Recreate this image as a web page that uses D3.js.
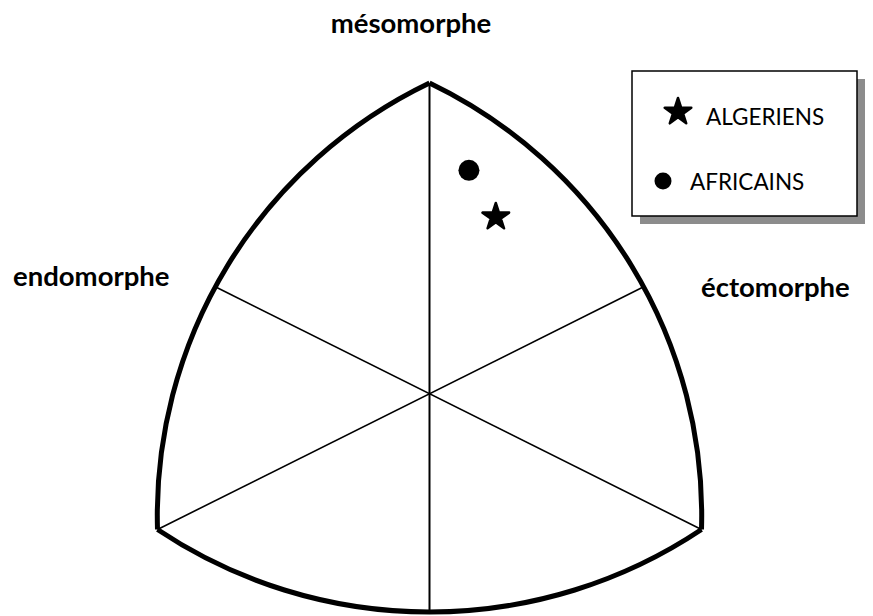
<!DOCTYPE html>
<html>
<head>
<meta charset="utf-8">
<script src="https://cdn.jsdelivr.net/npm/d3@7"></script>
<style>
  body { margin: 0; background: #fff; }
  text { font-family: Lato, "Open Sans", sans-serif; fill: #000; }
  .axis-label { font-weight: bold; font-size: 27.5px; }
  .legend-text { font-size: 22.5px; }
</style>
</head>
<body>
<div id="chart"></div>
<script>
// Somatochart frame (X = ecto - endo, Y = 2*meso - endo - ecto)
const vertexNames = ["mésomorphe", "endomorphe", "éctomorphe"];
const vertices = [[0, 16], [-8, -7], [8, -7]];        // meso, endo, ecto corners
const arcMidpoints = [[-6.3, 5.5], [6.3, 5.5], [0, -11.25]]; // endo side, ecto side, bottom

// Groups
const groups = ["ALGERIENS", "AFRICAINS"];
const groupX = [1.95, 1.16];
const groupY = [9.1, 11.5];
const groupSymbol = ["star", "circle"];

const width = 873, height = 616;

const svg = d3.select("#chart")
  .append("svg")
  .attr("width", width)
  .attr("height", height);

const xScale = d3.scaleLinear().domain([-8, 8]).range([157.5, 701.5]);
const yScale = d3.scaleLinear().domain([-7, 16]).range([529.5, 83]);

const px = (p) => [xScale(p[0]), yScale(p[1])];

// circle through three points -> svg arc
function arcPath(a, m, b) {
  const [ax, ay] = a, [bx, by] = m, [cx, cy] = b;
  const d = 2 * (ax * (by - cy) + bx * (cy - ay) + cx * (ay - by));
  const ux = ((ax * ax + ay * ay) * (by - cy) + (bx * bx + by * by) * (cy - ay) + (cx * cx + cy * cy) * (ay - by)) / d;
  const uy = ((ax * ax + ay * ay) * (cx - bx) + (bx * bx + by * by) * (ax - cx) + (cx * cx + cy * cy) * (bx - ax)) / d;
  const r = Math.hypot(ax - ux, ay - uy);
  // sweep: sign of cross product a->m->b
  const cross = (bx - ax) * (cy - ay) - (by - ay) * (cx - ax);
  const sweep = cross > 0 ? 1 : 0;
  return `M${ax},${ay} A${r},${r} 0 0 ${sweep} ${cx},${cy}`;
}

const chart = svg.append("g");

// inner lines (vertex -> opposite arc midpoint)
const innerLines = [
  [vertices[0], arcMidpoints[2]],
  [vertices[1], arcMidpoints[1]],
  [vertices[2], arcMidpoints[0]],
];
chart.selectAll("line.inner")
  .data(innerLines)
  .enter()
  .append("line")
  .attr("class", "inner")
  .attr("x1", (d) => xScale(d[0][0]))
  .attr("y1", (d) => yScale(d[0][1]))
  .attr("x2", (d) => xScale(d[1][0]))
  .attr("y2", (d) => yScale(d[1][1]))
  .attr("stroke", "#000")
  .attr("stroke-width", (d, i) => (i === 0 ? 2 : 1.6));

// outline arcs
const arcs = [
  [vertices[0], arcMidpoints[0], vertices[1]],
  [vertices[0], arcMidpoints[1], vertices[2]],
  [vertices[1], arcMidpoints[2], vertices[2]],
];
chart.selectAll("path.outline")
  .data(arcs)
  .enter()
  .append("path")
  .attr("class", "outline")
  .attr("d", (d) => arcPath(px(d[0]), px(d[1]), px(d[2])))
  .attr("fill", "none")
  .attr("stroke", "#000")
  .attr("stroke-width", 5)
  .attr("stroke-linejoin", "miter");

// axis labels
const labelPos = [
  { x: 411, y: 33, anchor: "middle" },
  { x: 13, y: 286, anchor: "start" },
  { x: 701, y: 297, anchor: "start" },
];
svg.selectAll("text.axis-label")
  .data(vertexNames)
  .enter()
  .append("text")
  .attr("class", "axis-label")
  .attr("x", (d, i) => labelPos[i].x)
  .attr("y", (d, i) => labelPos[i].y)
  .attr("text-anchor", (d, i) => labelPos[i].anchor)
  .text((d) => d);

// symbols
const symbolFor = (s, r) =>
  s === "star"
    ? d3.symbol().type(d3.symbolStar).size((r * r) / 0.8908130915292852)()
    : d3.symbol().type(d3.symbolCircle).size(Math.PI * r * r)();

chart.selectAll("path.point")
  .data(groups)
  .enter()
  .append("path")
  .attr("class", "point")
  .attr("transform", (d, i) => `translate(${xScale(groupX[i])},${yScale(groupY[i])})`)
  .attr("d", (d, i) => symbolFor(groupSymbol[i], groupSymbol[i] === "star" ? 14 : 10.5))
  .attr("fill", "#000")
  .attr("stroke", "#000")
  .attr("stroke-width", (d, i) => (groupSymbol[i] === "star" ? 2.5 : 0))
  .attr("stroke-linejoin", "round");

// legend
const legend = svg.append("g").attr("transform", "translate(632, 71)");
legend.append("rect")
  .attr("x", 8).attr("y", 8)
  .attr("width", 225).attr("height", 145)
  .attr("fill", "#8c8c8c");
legend.append("rect")
  .attr("x", 0).attr("y", 0)
  .attr("width", 225).attr("height", 145)
  .attr("fill", "#fff")
  .attr("stroke", "#000")
  .attr("stroke-width", 1.5);

const legendRows = [
  { sx: 46, sy: 41, tx: 74, ty: 54 },
  { sx: 31, sy: 110, tx: 58, ty: 119 },
];
const items = legend.selectAll("g.item")
  .data(groups)
  .enter()
  .append("g")
  .attr("class", "item");
items.append("path")
  .attr("transform", (d, i) => `translate(${legendRows[i].sx},${legendRows[i].sy})`)
  .attr("d", (d, i) => symbolFor(groupSymbol[i], groupSymbol[i] === "star" ? 14 : 8.5))
  .attr("fill", "#000")
  .attr("stroke", "#000")
  .attr("stroke-width", (d, i) => (groupSymbol[i] === "star" ? 2.5 : 0))
  .attr("stroke-linejoin", "round");
items.append("text")
  .attr("class", "legend-text")
  .attr("x", (d, i) => legendRows[i].tx)
  .attr("y", (d, i) => legendRows[i].ty)
  .text((d) => d);
</script>
</body>
</html>
